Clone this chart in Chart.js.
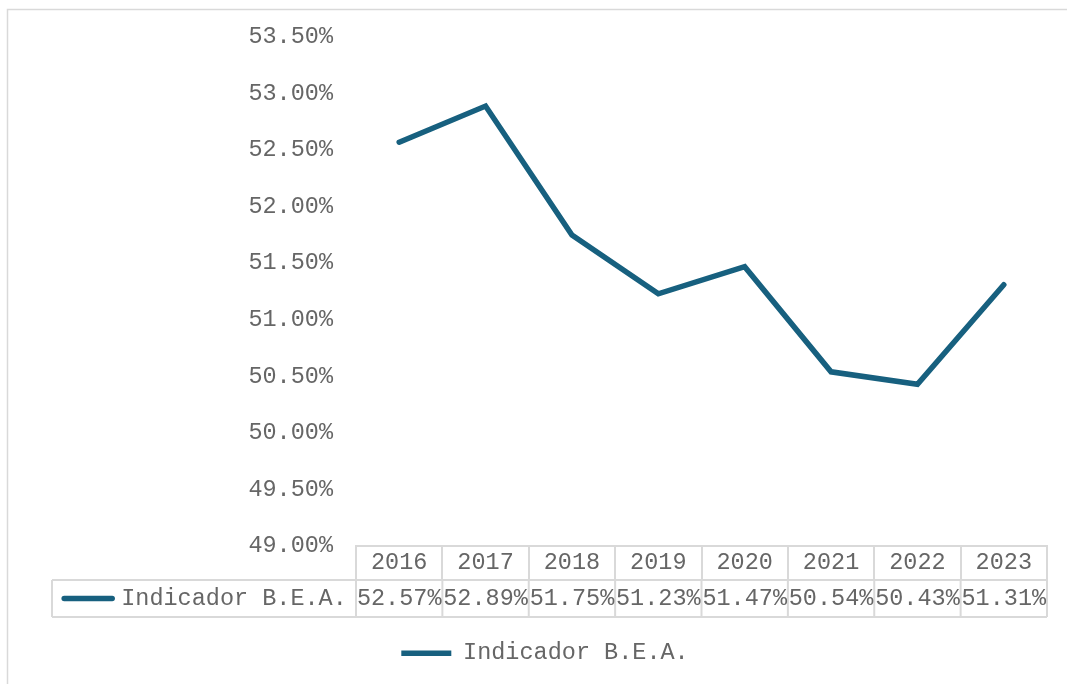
<!DOCTYPE html>
<html lang="es">
<head>
  <meta charset="UTF-8">
  <title>Indicador B.E.A.</title>
  <script src="https://cdn.jsdelivr.net/npm/chart.js"></script>
  <style>
    html, body { margin: 0; padding: 0; overflow: hidden; background: #fff; }
    canvas { display: block; }
  </style>
</head>
<body>
<canvas id="beaChart" width="1067" height="684"></canvas>

<script>
  // data
  var years = ['2016', '2017', '2018', '2019', '2020', '2021', '2022', '2023'];
  var beaValues = [52.57, 52.89, 51.75, 51.23, 51.47, 50.54, 50.43, 51.31];
  var seriesName = 'Indicador B.E.A.';
  var yMin = 49, yMax = 53.5, yStep = 0.5;

  var lineColor = '#17607f';
  var textColor = '#666666';
  var gridColor = '#d9d9d9';
  var monoFont = { family: '"Liberation Mono", "Courier New", monospace', size: 23.5 };

  function pct(v) {
    return v.toFixed(2) + '%';
  }

  // outer frame + the value row of the data table under the x axis
  var tablePlugin = {
    id: 'dataTable',
    beforeDraw: function(chart) {
      var ctx = chart.ctx;
      ctx.save();
      ctx.strokeStyle = gridColor;
      ctx.lineWidth = 1.5;
      ctx.strokeRect(7.5, 9.5, chart.width + 20, chart.height + 20);
      ctx.restore();
    },
    afterDraw: function(chart) {
      var ctx = chart.ctx;
      var xs = chart.scales.x;
      var top = xs.top + xs.options.grid.tickLength;
      var bottom = top + 37;
      var left = 52;
      var mid = (top + bottom) / 2;

      var bounds = [xs.left];
      for (var i = 1; i < years.length; i++) {
        bounds.push((xs.getPixelForValue(i - 1) + xs.getPixelForValue(i)) / 2);
      }
      bounds.push(xs.right);

      ctx.save();
      ctx.strokeStyle = gridColor;
      ctx.lineWidth = 2;
      ctx.beginPath();
      ctx.moveTo(left, top); ctx.lineTo(xs.right, top);
      ctx.moveTo(left, bottom); ctx.lineTo(xs.right, bottom);
      ctx.moveTo(left, top); ctx.lineTo(left, bottom);
      bounds.forEach(function(b) {
        ctx.moveTo(b, top); ctx.lineTo(b, bottom);
      });
      ctx.stroke();

      ctx.font = monoFont.size + 'px ' + monoFont.family;
      ctx.fillStyle = textColor;
      ctx.textBaseline = 'middle';

      // series key + name
      var keyW = 54, gap = 6;
      var nameW = ctx.measureText(seriesName).width;
      var start = (left + xs.left) / 2 - (keyW + gap + nameW) / 2;
      ctx.strokeStyle = lineColor;
      ctx.lineWidth = 5.5;
      ctx.lineCap = 'round';
      ctx.beginPath();
      ctx.moveTo(start + 3, mid);
      ctx.lineTo(start + keyW - 3, mid);
      ctx.stroke();
      ctx.textAlign = 'left';
      ctx.fillText(seriesName, start + keyW + gap, mid);

      ctx.textAlign = 'center';
      beaValues.forEach(function(v, i) {
        ctx.fillText(pct(v), xs.getPixelForValue(i), mid);
      });
      ctx.restore();
    }
  };

  var ctx = document.getElementById('beaChart').getContext('2d');

  new Chart(ctx, {
    type: 'line',
    data: {
      labels: years,
      datasets: [{
        label: seriesName,
        data: beaValues,
        borderColor: lineColor,
        backgroundColor: lineColor,
        borderWidth: 5.5,
        borderCapStyle: 'round',
        borderJoinStyle: 'miter',
        pointRadius: 0,
        tension: 0,
        fill: false
      }]
    },
    options: {
      responsive: false,
      animation: false,
      layout: { padding: { top: 37, right: 20, bottom: 9, left: 43 } },
      plugins: {
        tooltip: { enabled: false },
        legend: {
          position: 'bottom',
          labels: {
            usePointStyle: true,
            pointStyle: 'line',
            pointStyleWidth: 50,
            padding: 10,
            color: textColor,
            font: monoFont
          }
        }
      },
      scales: {
        x: {
          offset: true,
          grid: {
            offset: true,
            drawOnChartArea: false,
            drawTicks: true,
            tickLength: 34,
            color: gridColor,
            lineWidth: 2
          },
          border: { display: true, color: gridColor, width: 2 },
          ticks: {
            color: textColor,
            font: monoFont,
            padding: -31,
            maxRotation: 0,
            autoSkip: false
          },
          afterFit: function(scale) {
            scale.height = 85.5;
          }
        },
        y: {
          min: yMin,
          max: yMax,
          grid: { display: false, drawTicks: false },
          border: { display: false },
          ticks: {
            stepSize: yStep,
            padding: 23,
            color: textColor,
            font: monoFont,
            callback: function(v) { return pct(v); }
          },
          afterFit: function(scale) {
            scale.width = 313;
          }
        }
      }
    },
    plugins: [tablePlugin]
  });
</script>
</body>
</html>
